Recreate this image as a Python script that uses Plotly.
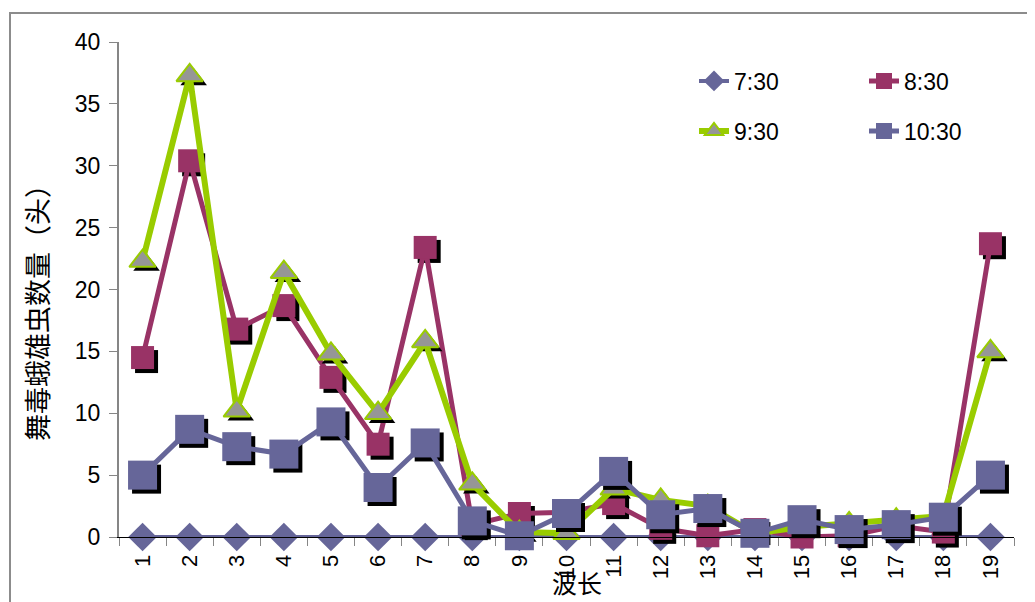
import plotly.graph_objects as go

# ---- data ----
categories = [str(i) for i in range(1, 20)]
series_names = ["7:30", "8:30", "9:30", "10:30"]
v0730 = [0] * 19
v0830 = [14.5, 30.4, 16.8, 18.7, 12.9, 7.5, 23.4, 1.0, 1.9, 2.0,
         2.7, 0.7, 0.1, 0.6, 0.0, 0.1, 0.9, 0.4, 23.7]
v0930 = [22.3, 37.3, 10.2, 21.4, 14.8, 10.0, 15.8, 4.3, 0.4, 0.3,
         3.9, 3.0, 2.5, 0.3, 0.8, 1.1, 1.4, 1.7, 15.0]
v1030 = [5.0, 8.7, 7.3, 6.7, 9.3, 4.0, 7.6, 1.3, 0.1, 1.9,
         5.3, 1.8, 2.3, 0.3, 1.4, 0.6, 1.0, 1.6, 5.0]
y_ticks = [0, 5, 10, 15, 20, 25, 30, 35, 40]

# ---- layout geometry (page pixels; the page body has an 8px margin) ----
OFF = 8
W, H = 1035, 602
PL, PT, PR, PB = 119, 42, 1014, 537          # plot area on the page
L, T = PL - OFF, PT - OFF
R, B = W - (PR - OFF), H - (PB - OFF)
PW, PH = PR - PL, PB - PT
XMIN, XMAX = 0.5, len(categories) + 0.5
YMIN, YMAX = 0, 40
SHX = 4 * (XMAX - XMIN) / PW      # 4px shadow offset in data units
SHY = 4 * (YMAX - YMIN) / PH

xpos = list(range(1, len(categories) + 1))
FONT = "Liberation Sans, Arial, sans-serif"
CJK = "Noto Sans CJK SC, sans-serif"

def px_to_paper_x(px):
    return (px - PL) / PW

def px_to_paper_y(py):
    return (PB - py) / PH

styles = [
    dict(values=v0730, line=dict(color="#666699", width=4),
         marker=dict(symbol="diamond", size=22, color="#666699"),
         legend="legend", lpos=(694, 81)),
    dict(values=v0830, line=dict(color="#993366", width=5),
         marker=dict(symbol="square", size=23, color="#993366"),
         legend="legend2", lpos=(864, 81)),
    dict(values=v0930, line=dict(color="#99CC00", width=6),
         marker=dict(symbol="triangle-up", size=23, color="#969696",
                     line=dict(color="#99CC00", width=2)),
         legend="legend3", lpos=(694, 131)),
    dict(values=v1030, line=dict(color="#666699", width=5),
         marker=dict(symbol="square", size=29, color="#666699"),
         legend="legend4", lpos=(864, 131)),
]

fig = go.Figure()
for name, st in zip(series_names, styles):
    vals = st["values"]
    # marker shadow
    fig.add_trace(go.Scatter(
        x=[x + SHX for x in xpos], y=[v - SHY for v in vals], mode="markers",
        marker=dict(symbol=st["marker"]["symbol"], size=st["marker"]["size"],
                    color="black"),
        showlegend=False, hoverinfo="skip", cliponaxis=False))
    fig.add_trace(go.Scatter(
        x=xpos, y=vals, mode="lines+markers", name=name,
        line=st["line"], marker=st["marker"], legend=st["legend"],
        cliponaxis=False))

legends = {}
for st in styles:
    legends[st["legend"]] = dict(
        x=px_to_paper_x(st["lpos"][0]), y=px_to_paper_y(st["lpos"][1]),
        xanchor="left", yanchor="middle", orientation="h",
        font=dict(family=FONT, size=23, color="black"),
        bgcolor="rgba(0,0,0,0)", itemsizing="trace")

fig.update_layout(
    width=W, height=H,
    margin=dict(l=L, r=R, t=T, b=B),
    paper_bgcolor="white", plot_bgcolor="white",
    font=dict(family=FONT, size=22, color="black"),
    xaxis=dict(range=[XMIN, XMAX], tickmode="array", tickvals=xpos, ticktext=categories,
               tickangle=-90, ticks="", showgrid=False, zeroline=False,
               showline=True, linecolor="black", linewidth=1,
               tickfont=dict(family=FONT, size=22, color="black"),
               ticklabelstandoff=8,
               minor=dict(tickmode="array",
                          tickvals=[x + 0.5 for x in [0] + xpos],
                          ticks="outside", ticklen=8, tickcolor="#868686",
                          tickwidth=1, showgrid=False)),
    yaxis=dict(range=[YMIN, YMAX], tickmode="array", tickvals=y_ticks,
               ticks="outside", ticklen=8, tickcolor="#868686", tickwidth=1,
               showgrid=False, zeroline=False, showline=True,
               linecolor="#868686", linewidth=2, ticklabelstandoff=4,
               tickfont=dict(family=FONT, size=23, color="black")),
    shapes=[dict(type="rect", xref="paper", yref="paper",
                 x0=px_to_paper_x(10), x1=px_to_paper_x(1050),
                 y0=px_to_paper_y(630), y1=px_to_paper_y(13),
                 line=dict(color="#8c8c8c", width=2), layer="below")],
    annotations=[
        dict(text="舞毒蛾雄虫数量（头）", textangle=-90, showarrow=False,
             xref="paper", yref="paper", x=px_to_paper_x(36), y=px_to_paper_y(306),
             xanchor="center", yanchor="middle",
             font=dict(family=CJK, size=27, color="black")),
        dict(text="波长", showarrow=False, xref="paper", yref="paper",
             x=px_to_paper_x(577), y=px_to_paper_y(582),
             xanchor="center", yanchor="middle",
             font=dict(family=CJK, size=25, color="black")),
    ],
    **legends,
)

fig.write_html("out.html")
